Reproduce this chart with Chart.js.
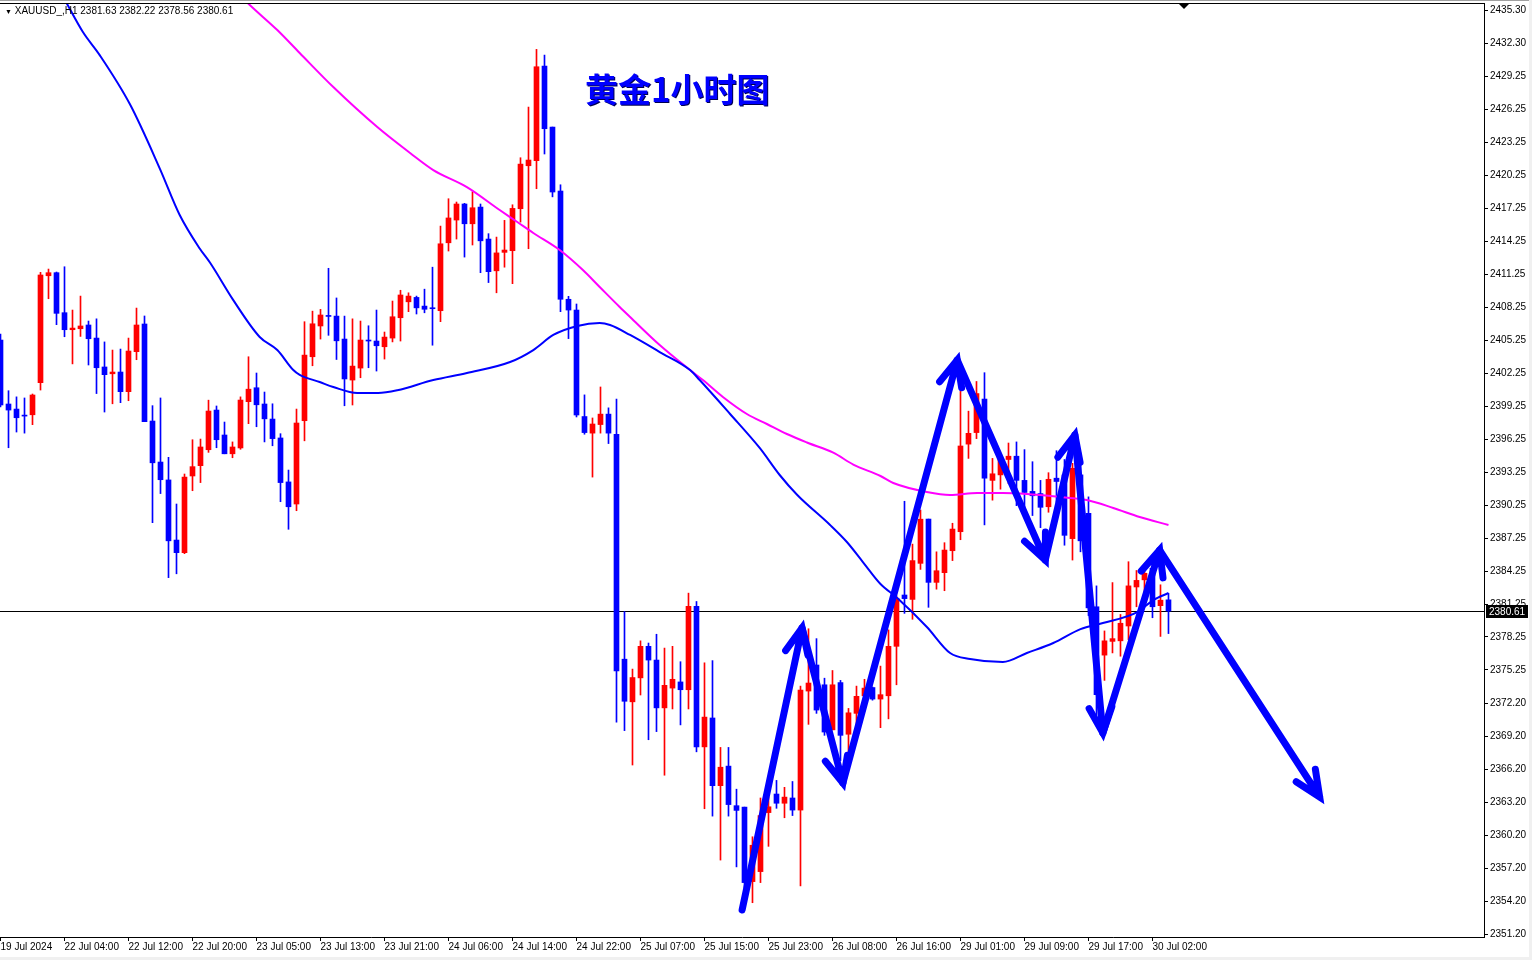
<!DOCTYPE html>
<html>
<head>
<meta charset="utf-8">
<script src="https://cdn.jsdelivr.net/npm/chart.js@4.4.1/dist/chart.umd.min.js"></script>
<style>
body { margin: 0; background: #fff; }
#wrap { position: relative; width: 1532px; height: 960px; overflow: hidden; }
#chartGold { position: absolute; left: 0; top: 0; }
#header { position: absolute; left: 5px; top: 5px; font: 10px "Liberation Sans", sans-serif; color: #000; white-space: pre; }
#header span { font-size: 7px; }
#title { position: absolute; left: 585px; top: 72px; font: bold 33px/33px "Noto Sans CJK SC", sans-serif; color: #0000ff; text-shadow: 1px 1px 0 #000050; white-space: nowrap; }
</style>
</head>
<body>
<div id="wrap">
  <canvas id="chartGold" width="1532" height="960"></canvas>
  <div id="header"><span>▼</span> XAUUSD_,H1 2381.63 2382.22 2378.56 2380.61</div>
  <div id="title">黄金1小时图</div>
</div>
<script>
// hourly candles, index 0 = first bar on the left
let opens = [2405.27,2399.45,2398.99,2398.35,2398.47,2401.39,2411.12,2411.40,2407.76,2406.21,
2406.30,2406.64,2405.45,2402.82,2402.20,2402.36,2400.57,2404.21,2406.73,2397.90,
2394.17,2392.54,2387.07,2385.92,2392.90,2393.84,2395.29,2398.90,2396.63,2394.92,
2395.45,2399.66,2400.93,2399.45,2398.08,2396.36,2392.36,2390.35,2397.93,2403.75,
2406.55,2407.42,2407.45,2405.36,2401.63,2402.72,2405.18,2405.18,2404.66,2405.45,
2407.30,2408.75,2409.15,2408.36,2408.12,2407.94,2414.12,2416.19,2417.65,2415.85,
2417.37,2414.46,2411.57,2413.25,2413.40,2417.22,2421.13,2421.59,2430.20,2424.65,
2418.83,2408.98,2408.00,2398.31,2396.80,2397.58,2398.53,2396.70,2376.23,2372.35,
2374.53,2377.40,2376.15,2371.80,2373.60,2374.16,2373.45,2381.04,2368.25,2370.88,
2364.72,2366.50,2362.90,2362.77,2355.99,2356.90,2362.27,2363.96,2363.12,2363.60,
2362.50,2373.33,2375.70,2373.90,2369.80,2374.10,2369.40,2371.30,2372.90,2373.65,
2372.60,2372.90,2377.40,2382.07,2381.67,2384.95,2388.98,2383.22,2384.10,2386.10,
2387.83,2395.80,2396.85,2399.90,2392.50,2393.00,2394.40,2394.70,2392.50,2391.50,
2391.30,2390.10,2392.70,2393.00,2387.20,2393.00,2389.50,2381.00,2376.60,2377.85,
2377.90,2379.25,2382.80,2383.45,2384.50,2381.10,2381.63];
let highs = [2405.82,2400.66,2400.10,2400.00,2400.36,2411.43,2411.73,2411.46,2411.94,2408.00,
2409.27,2407.00,2407.20,2405.10,2404.36,2404.45,2405.45,2408.18,2407.46,2399.30,
2400.00,2394.60,2390.35,2393.08,2396.20,2396.26,2399.80,2399.27,2397.81,2396.00,
2400.10,2403.75,2402.27,2400.54,2399.47,2396.75,2393.44,2398.99,2406.94,2407.90,
2408.06,2411.80,2409.10,2407.45,2407.20,2407.00,2406.57,2408.00,2406.00,2408.82,
2409.80,2409.57,2409.27,2409.90,2411.90,2415.64,2418.13,2417.83,2417.71,2418.77,
2417.65,2414.95,2414.64,2416.16,2417.58,2421.86,2426.47,2431.72,2431.20,2424.65,
2419.40,2409.25,2408.55,2400.28,2398.18,2401.00,2399.10,2399.90,2380.56,2375.33,
2377.90,2377.70,2378.50,2377.24,2377.40,2376.00,2382.24,2381.48,2375.90,2376.10,
2368.20,2368.20,2364.40,2362.77,2360.07,2363.60,2363.70,2365.20,2364.57,2365.10,
2373.78,2379.00,2378.10,2374.50,2375.20,2374.30,2371.75,2373.78,2374.40,2373.70,
2375.60,2378.90,2382.00,2390.60,2386.70,2389.80,2388.98,2386.00,2386.83,2388.60,
2400.60,2398.80,2401.50,2402.30,2394.50,2394.60,2395.90,2396.00,2395.30,2394.20,
2392.50,2393.20,2395.20,2394.40,2394.05,2395.00,2391.00,2382.90,2378.80,2383.20,
2380.30,2385.10,2384.30,2384.30,2385.00,2383.00,2382.22];
let lows = [2399.18,2395.47,2396.90,2396.80,2397.57,2400.72,2409.03,2406.67,2405.57,2403.10,
2405.60,2403.00,2400.40,2398.72,2399.47,2399.57,2399.75,2403.48,2397.84,2388.65,
2391.30,2383.65,2384.00,2385.83,2391.56,2392.30,2395.05,2395.47,2394.92,2394.56,
2395.33,2397.66,2397.38,2396.00,2395.65,2390.56,2388.05,2389.74,2396.10,2402.93,
2405.36,2405.70,2403.50,2399.29,2399.36,2401.84,2402.75,2402.45,2403.54,2405.10,
2405.18,2407.85,2407.64,2407.75,2404.80,2406.94,2413.37,2414.46,2412.82,2413.92,
2411.40,2410.50,2409.57,2411.90,2410.40,2416.00,2413.58,2419.04,2422.20,2418.30,
2407.85,2405.40,2398.27,2396.70,2392.80,2396.80,2395.85,2370.50,2369.73,2366.60,
2372.97,2368.90,2369.64,2365.67,2371.70,2370.25,2371.70,2367.80,2362.62,2361.95,
2357.95,2361.95,2357.33,2355.40,2354.07,2355.90,2359.20,2362.66,2361.80,2362.00,
2355.60,2370.30,2371.30,2369.30,2369.80,2367.00,2367.30,2369.60,2372.10,2372.50,
2370.00,2370.80,2373.90,2380.40,2379.86,2384.40,2380.95,2382.60,2382.46,2385.20,
2387.10,2394.50,2396.30,2388.45,2390.70,2391.70,2392.20,2390.20,2389.30,2389.30,
2388.20,2389.60,2390.50,2386.60,2385.25,2386.00,2380.20,2370.50,2374.30,2376.80,
2376.50,2378.00,2381.00,2381.50,2380.00,2378.30,2378.56];
let closes = [2399.36,2398.90,2398.20,2398.35,2400.27,2411.19,2411.40,2407.70,2406.21,2406.36,
2406.55,2405.39,2402.75,2402.12,2402.36,2400.57,2404.27,2406.64,2397.84,2394.10,
2392.56,2387.00,2385.92,2392.80,2393.75,2395.54,2398.81,2396.20,2394.92,2395.54,
2399.81,2400.80,2399.38,2398.10,2396.30,2392.30,2390.10,2397.72,2403.90,2406.75,
2407.55,2407.42,2405.20,2401.73,2402.90,2405.27,2405.18,2404.75,2405.54,2407.39,
2409.37,2409.27,2408.20,2408.07,2408.12,2414.03,2416.38,2417.65,2415.85,2417.31,
2414.30,2411.49,2413.20,2413.46,2417.25,2421.28,2421.65,2430.14,2424.50,2418.74,
2408.98,2408.00,2398.45,2396.85,2397.63,2398.53,2396.80,2375.16,2372.40,2374.56,
2377.40,2376.15,2371.80,2373.85,2374.40,2373.45,2381.04,2368.25,2370.96,2364.72,
2366.40,2363.00,2362.47,2355.90,2359.30,2362.00,2362.80,2363.12,2363.68,2362.50,
2373.42,2374.06,2371.60,2369.60,2373.90,2369.30,2371.35,2372.85,2373.60,2372.60,
2373.00,2377.40,2381.76,2381.74,2385.20,2388.97,2383.22,2384.28,2386.16,2388.07,
2395.63,2396.78,2400.40,2392.70,2393.10,2394.40,2394.70,2392.50,2391.40,2391.10,
2390.05,2392.60,2392.40,2387.50,2393.60,2387.00,2380.90,2373.00,2377.90,2378.10,
2379.50,2382.90,2383.40,2384.05,2381.00,2381.60,2380.61];

// moving averages (bar index, price)
let maBlueX = [8.06,10.3,12.4,16.2,19.9,22.4,24.9,26.2,29.1,32.4,34.6,36.6,37.4,39.9,41.6,44.6,47.2,49.6,54.1,58.3,
63.7,66.6,69.1,72.1,74.9,76.2,78.7,82.4,86.2,87.4,91.2,94.9,97.4,99.6,103.7,105.8,107.8,110.0,112.1,115.8,
118.7,121.2,125.3,128.3,131.6,135.0,137.8,142.1,144.1,146.0];
let maBlueY = [2436.2,2433.3,2431.2,2426.7,2420.9,2416.65,2413.6,2412.3,2408.9,2405.55,2404.36,2402.54,2402.1,2401.45,2401.0,2400.45,2400.45,2400.7,2401.63,2402.27,
2403.27,2404.36,2405.73,2406.55,2406.82,2406.64,2405.73,2404.18,2402.54,2401.63,2398.54,2395.45,2392.99,2391.17,2388.44,2386.89,2385.07,2383.07,2381.8,2379.16,
2376.79,2376.25,2375.97,2376.79,2377.7,2378.97,2379.52,2380.52,2381.61,2382.25];
let maPinkX = [29.9,30.9,34.6,37.4,41.6,47.1,51.2,54.1,58.3,62.4,64.6,66.6,69.9,72.8,74.9,77.4,78.7,82.4,86.2,87.8,
90.3,93.3,95.8,98.3,100.8,104.1,106.6,110.0,111.6,115.8,118.7,122.1,125.3,128.3,132.4,135.8,139.1,142.4,146.0];
let maPinkY = [2436.7,2435.94,2433.48,2431.39,2428.29,2424.65,2422.29,2420.74,2419.19,2417.1,2416.01,2415.01,2413.46,2411.64,2410.1,2408.28,2407.37,2404.82,2402.54,2401.63,
2400.09,2398.54,2397.63,2396.72,2395.95,2395.02,2393.94,2392.9,2392.26,2391.44,2391.17,2391.35,2391.35,2391.26,2390.99,2390.71,2389.99,2389.17,2388.44];

// hand drawn arrows (bar index, price)
let arrowX = [92.7,100.2,105.3,119.6,130.6,134.3,137.8,144.9,164.9];
let arrowY = [2353.41,2379.07,2364.96,2403.45,2385.25,2396.63,2369.51,2386.16,2363.69];

let xTickIdx = [0,8,16,24,32,40,48,56,64,72,80,88,96,104,112,120,128,136,144];
let xTickLabels = ["19 Jul 2024","22 Jul 04:00","22 Jul 12:00","22 Jul 20:00","23 Jul 05:00","23 Jul 13:00",
"23 Jul 21:00","24 Jul 06:00","24 Jul 14:00","24 Jul 22:00","25 Jul 07:00","25 Jul 15:00","25 Jul 23:00",
"26 Jul 08:00","26 Jul 16:00","29 Jul 01:00","29 Jul 09:00","29 Jul 17:00","30 Jul 02:00"];
let yTickLabels = ["2435.30","2432.30","2429.25","2426.25","2423.25","2420.25","2417.25","2414.25","2411.25",
"2408.25","2405.25","2402.25","2399.25","2396.25","2393.25","2390.25","2387.25","2384.25","2381.25",
"2378.25","2375.25","2372.20","2369.20","2366.20","2363.20","2360.20","2357.20","2354.20","2351.20"];

let lastPrice = 2380.61;
let upColor = '#ff0000';
let downColor = '#0000ff';

let chart;

const candleColors = () => opens.map((o, i) => closes[i] > o ? upColor : downColor)

const drawArrow = (c, x1, y1, x2, y2) => {
    let a = Math.atan2(y2 - y1, x2 - x1);
    let len = 28, spread = 0.42;
    c.beginPath();
    c.moveTo(x1, y1);
    c.lineTo(x2, y2);
    c.moveTo(x2 - len * Math.cos(a - spread), y2 - len * Math.sin(a - spread));
    c.lineTo(x2, y2);
    c.lineTo(x2 - len * Math.cos(a + spread), y2 - len * Math.sin(a + spread));
    c.stroke();
}

const extras = {
    id: 'extras',
    beforeDatasetsDraw(ch) {
        let c = ch.ctx, area = ch.chartArea;
        let py = Math.round(ch.scales.y.getPixelForValue(lastPrice)) + 0.5;
        c.save();
        c.strokeStyle = '#000';
        c.lineWidth = 1;
        c.beginPath();
        c.moveTo(area.left, py);
        c.lineTo(area.right, py);
        c.stroke();
        c.restore();
    },
    afterDraw(ch) {
        let c = ch.ctx, area = ch.chartArea, xs = ch.scales.x, ys = ch.scales.y;
        c.save();
        // frame on top
        c.fillStyle = '#a0a0a0';
        c.fillRect(0, 0, ch.width, 1);
        c.fillStyle = '#000';
        c.fillRect(area.left, area.top, area.right - area.left, 1);
        c.fillStyle = '#f0f0f0';
        c.fillRect(ch.width - 3, 0, 3, ch.height);
        c.fillRect(0, ch.height - 3, ch.width, 3);
        // shift marker
        let mx = Math.round(xs.getPixelForValue(148));
        c.fillStyle = '#000';
        c.beginPath();
        c.moveTo(mx - 5, area.top + 1);
        c.lineTo(mx + 5, area.top + 1);
        c.lineTo(mx, area.top + 6);
        c.closePath();
        c.fill();
        // arrows
        c.beginPath();
        c.rect(area.left, area.top, area.right - area.left, area.bottom - area.top);
        c.clip();
        c.strokeStyle = '#0000ff';
        c.lineWidth = 7;
        c.lineCap = 'round';
        c.lineJoin = 'miter';
        c.miterLimit = 4;
        for (let i = 1; i < arrowX.length; i++) {
            drawArrow(c, xs.getPixelForValue(arrowX[i - 1]), ys.getPixelForValue(arrowY[i - 1]),
                xs.getPixelForValue(arrowX[i]), ys.getPixelForValue(arrowY[i]));
        }
        c.restore();
        // price label on the axis
        let py = Math.round(ys.getPixelForValue(lastPrice));
        c.save();
        c.fillStyle = '#000';
        c.fillRect(area.right + 2, py - 6, 42, 13);
        c.fillStyle = '#fff';
        c.font = '10px "Liberation Sans"';
        c.textBaseline = 'middle';
        c.fillText(lastPrice.toFixed(2), area.right + 5, py + 1);
        c.restore();
    }
}

function makeChart() {
    let colors = candleColors();
    Chart.defaults.font.family = '"Liberation Sans", sans-serif';
    Chart.defaults.font.size = 10;
    Chart.defaults.color = '#000';
    const ctx = document.getElementById('chartGold').getContext('2d');
    chart = new Chart(ctx, {
        data: {
            datasets: [
                {
                    type: 'line',
                    label: 'MA fast',
                    data: maBlueX.map((x, i) => ({x: x, y: maBlueY[i]})),
                    borderColor: '#0000ff',
                    borderWidth: 2,
                    pointRadius: 0,
                    cubicInterpolationMode: 'monotone',
                    order: 0
                },
                {
                    type: 'line',
                    label: 'MA slow',
                    data: maPinkX.map((x, i) => ({x: x, y: maPinkY[i]})),
                    borderColor: '#ff00ff',
                    borderWidth: 2,
                    pointRadius: 0,
                    cubicInterpolationMode: 'monotone',
                    order: 0
                },
                {
                    type: 'bar',
                    label: 'body',
                    data: opens.map((o, i) => ({x: i, y: [o, closes[i]]})),
                    backgroundColor: colors,
                    barThickness: 5,
                    minBarLength: 1,
                    grouped: false,
                    order: 1
                },
                {
                    type: 'bar',
                    label: 'wick',
                    data: lows.map((l, i) => ({x: i, y: [l, highs[i]]})),
                    backgroundColor: colors,
                    barThickness: 1,
                    grouped: false,
                    order: 2
                }
            ]
        },
        options: {
            animation: false,
            responsive: false,
            maintainAspectRatio: false,
            layout: {padding: {top: 3, left: 0, right: 0, bottom: 0}},
            plugins: {legend: {display: false}, tooltip: {enabled: false}},
            scales: {
                x: {
                    type: 'linear',
                    min: -0.0625,
                    max: 185.44,
                    offset: false,
                    grid: {display: true, drawOnChartArea: false, offset: false, color: '#000', tickLength: 4},
                    border: {display: true, color: '#000'},
                    ticks: {
                        autoSkip: false,
                        maxRotation: 0,
                        align: 'start',
                        padding: 0,
                        callback: (v, i) => xTickLabels[i]
                    },
                    afterBuildTicks: s => { s.ticks = xTickIdx.map(v => ({value: v})) },
                    afterFit: s => { s.height = 23; s.paddingLeft = 0; s.paddingRight = 0 }
                },
                y: {
                    type: 'linear',
                    position: 'right',
                    min: 2350.95,
                    max: 2435.94,
                    beginAtZero: false,
                    grid: {display: true, drawOnChartArea: false, color: '#000', tickLength: 4},
                    border: {display: true, color: '#000'},
                    ticks: {
                        padding: 2,
                        callback: (v, i) => yTickLabels[i]
                    },
                    afterBuildTicks: s => { s.ticks = yTickLabels.map(t => ({value: parseFloat(t)})) },
                    afterFit: s => { s.width = 48; s.paddingTop = 0; s.paddingBottom = 0 }
                }
            }
        },
        plugins: [extras]
    });
}

makeChart()
</script>
</body>
</html>
